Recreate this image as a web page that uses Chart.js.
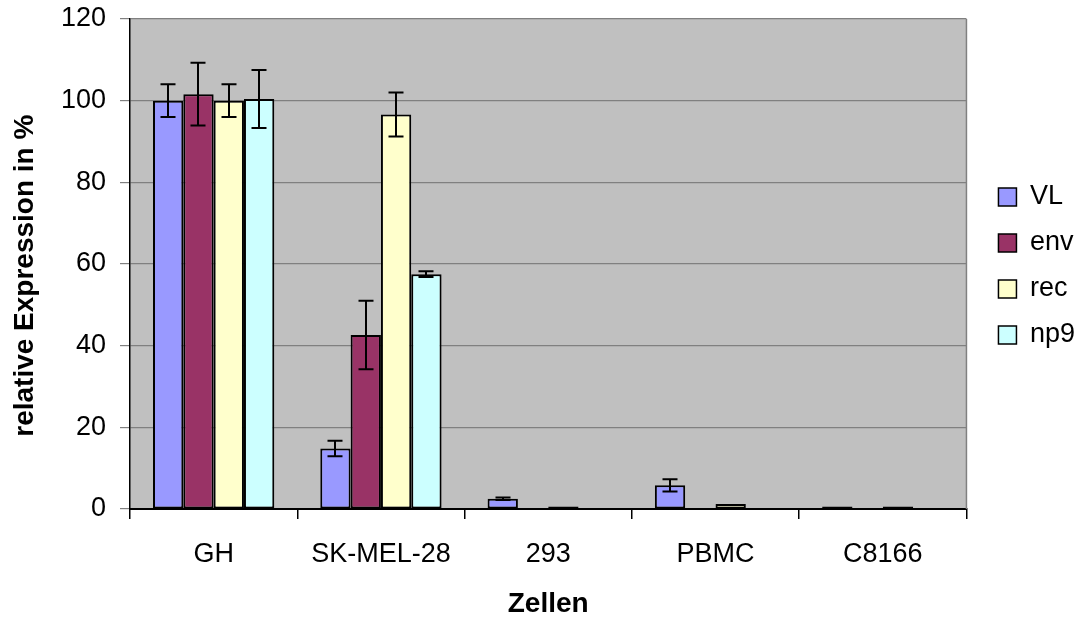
<!DOCTYPE html>
<html>
<head>
<meta charset="utf-8">
<script src="https://cdn.jsdelivr.net/npm/chart.js@4.4.1/dist/chart.umd.min.js"></script>
<style>
  body { margin: 0; background: #fff; }
  #wrap { width: 1084px; height: 621px; }
</style>
</head>
<body>
<div id="wrap"><canvas id="chart" width="1084" height="621"></canvas></div>
<script>
// === DATA ===
const categories = ['GH', 'SK-MEL-28', '293', 'PBMC', 'C8166'];
const seriesNames = ['VL', 'env', 'rec', 'np9'];
const vlValues  = [100, 14.8, 2.5, 5.8, 0.6];
const envValues = [101.6, 42.6, 0, 0, 0];
const recValues = [100, 96.6, 0.6, 1.2, 0.6];
const np9Values = [100.4, 57.5, 0, 0, 0];
const vlErrors  = [4.0, 1.9, 0.3, 1.5, 0];
const envErrors = [7.7, 8.4, 0, 0, 0];
const recErrors = [4.0, 5.4, 0, 0, 0];
const np9Errors = [7.1, 0.7, 0, 0, 0];
const yTicks = [0, 20, 40, 60, 80, 100, 120];

const colors = ['#9999FF', '#993366', '#FFFFCC', '#CCFFFF'];
const allValues = [vlValues, envValues, recValues, np9Values];
const allErrors = [vlErrors, envErrors, recErrors, np9Errors];

const FONT = 'Arial, "Liberation Sans", sans-serif';

// grey plot background
const plotBackground = {
    id: 'plotBackground',
    beforeDraw(chart) {
        const { ctx, chartArea: a } = chart;
        ctx.save();
        ctx.fillStyle = '#C0C0C0';
        ctx.fillRect(a.left, a.top, a.right - a.left, a.bottom - a.top);
        ctx.restore();
    },
    afterDraw(chart) {
        const { ctx, chartArea: a } = chart;
        ctx.save();
        ctx.strokeStyle = '#808080';
        ctx.lineWidth = 1.5;
        ctx.beginPath();
        ctx.moveTo(a.right, a.top);
        ctx.lineTo(a.right, a.bottom);
        ctx.stroke();
        ctx.restore();
    }
};

// legend sits a little away from the plot, centred on it
const legendShift = {
    id: 'legendShift',
    afterLayout(chart) {
        const lg = chart.legend;
        const a = chart.chartArea;
        const w = lg.right - lg.left;
        const h = lg.bottom - lg.top;
        lg.left = a.right + 13;
        lg.right = lg.left + w;
        lg.top = (a.top + a.bottom) / 2 + 2 - h / 2;
        lg.bottom = lg.top + h;
    }
};

// error bars from the error arrays
const errorBars = {
    id: 'errorBars',
    afterDatasetsDraw(chart) {
        const { ctx } = chart;
        const y = chart.scales.y;
        ctx.save();
        ctx.strokeStyle = '#000';
        ctx.lineWidth = 2;
        chart.data.datasets.forEach((ds, i) => {
            const meta = chart.getDatasetMeta(i);
            meta.data.forEach((bar, j) => {
                const err = ds.errors[j];
                if (!err) return;
                const v = ds.data[j];
                const top = y.getPixelForValue(v + err);
                const bottom = y.getPixelForValue(v - err);
                const x = Math.round(bar.x);
                ctx.beginPath();
                ctx.moveTo(x, top);
                ctx.lineTo(x, bottom);
                ctx.moveTo(x - 7.5, top);
                ctx.lineTo(x + 7.5, top);
                ctx.moveTo(x - 7.5, bottom);
                ctx.lineTo(x + 7.5, bottom);
                ctx.stroke();
            });
        });
        ctx.restore();
    }
};

new Chart(document.getElementById('chart').getContext('2d'), {
    type: 'bar',
    data: {
        labels: categories,
        datasets: seriesNames.map((name, i) => ({
            label: name,
            data: allValues[i],
            errors: allErrors[i],
            backgroundColor: colors[i],
            borderColor: '#000',
            borderWidth: 2,
            borderSkipped: false,
            categoryPercentage: 0.725,
            barPercentage: 1.0
        }))
    },
    options: {
        responsive: false,
        animation: false,
        layout: { padding: { top: 19, left: 0, right: 12, bottom: 0 } },
        plugins: {
            tooltip: { enabled: false },
            legend: {
                position: 'right',
                labels: {
                    color: '#000',
                    font: { family: FONT, size: 27 },
                    boxWidth: 18,
                    boxHeight: 18,
                    padding: 19,
                    generateLabels(chart) {
                        return chart.data.datasets.map((ds, i) => ({
                            text: ds.label,
                            fillStyle: ds.backgroundColor,
                            strokeStyle: '#000',
                            lineWidth: 1.5,
                            datasetIndex: i
                        }));
                    }
                }
            }
        },
        scales: {
            x: {
                afterFit(scale) {
                    scale.height = 112;
                    scale.paddingLeft = 0;
                    scale.paddingRight = 0;
                },
                grid: {
                    offset: true,
                    drawOnChartArea: false,
                    color: '#000',
                    tickLength: 10,
                    lineWidth: 1.5
                },
                border: { color: '#000', width: 2 },
                ticks: {
                    color: '#000',
                    padding: 19,
                    font: { family: FONT, size: 27 }
                },
                title: {
                    display: true,
                    text: 'Zellen',
                    color: '#000',
                    font: { family: FONT, size: 28, weight: 'bold' },
                    padding: { top: 0, bottom: 0 }
                }
            },
            y: {
                min: 0,
                max: 120,
                afterFit(scale) {
                    scale.width = 130;
                    scale.paddingTop = 0;
                    scale.paddingBottom = 0;
                },
                afterBuildTicks(scale) { scale.ticks = yTicks.map(v => ({ value: v })); },
                grid: {
                    color: '#808080',
                    tickColor: '#808080',
                    tickLength: 10,
                    lineWidth: 1.2
                },
                border: { color: '#000', width: 1.5 },
                ticks: {
                    color: '#000',
                    padding: 14,
                    font: { family: FONT, size: 27 }
                },
                title: {
                    display: true,
                    // trailing spaces push the centred title down a little, as in the original
                    text: 'relative Expression in %   ',
                    color: '#000',
                    font: { family: FONT, size: 28, weight: 'bold' },
                    padding: { top: 8, bottom: 0 }
                }
            }
        }
    },
    plugins: [plotBackground, legendShift, errorBars]
});
</script>
</body>
</html>
